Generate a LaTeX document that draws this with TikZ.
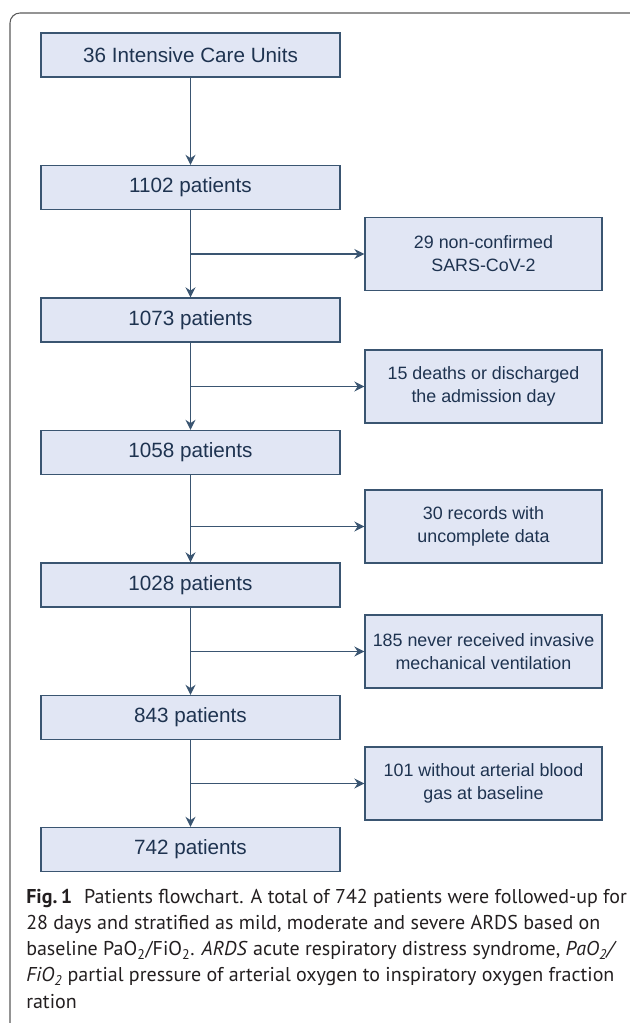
\documentclass[tikz,border=0pt]{standalone}
\usepackage{fontspec}
\setmainfont{Liberation Sans}
\newfontfamily\capfont{PT Sans}
\usetikzlibrary{arrows.meta, positioning}
\definecolor{boxfill}{HTML}{E1E6F4}
\definecolor{boxline}{HTML}{3A5571}
\definecolor{boxtext}{HTML}{1E3350}
\definecolor{framegray}{HTML}{5A5A5A}
\definecolor{captext}{HTML}{231F20}

\tikzset{
  mainbox/.style={draw=boxline, fill=boxfill, line width=1pt, minimum width=224.25pt,
    minimum height=33pt, inner sep=0pt, text=boxtext, font=\fontsize{15.5}{18}\selectfont},
  exclbox/.style={mainbox, minimum width=177.75pt, minimum height=54.75pt, align=center,
    font=\fontsize{13.4}{17.25}\selectfont},
  flow/.style={draw=boxline, line width=1pt, -{Stealth[length=7.5pt, width=7.5pt]}}
}

\begin{document}
\begin{tikzpicture}[x=0.75pt, y=-0.75pt]
  \useasboundingbox (0,0) rectangle (629,1023);

  % Outer frame
  \draw[framegray, line width=0.8pt, rounded corners=7.5pt] (10,13) rectangle (640,1035);

  % Main column
  \node[mainbox] (icu) at (190.5,55) {36 Intensive Care Units};
  \node[mainbox] (p1102) at (190.5,187.5) {1102 patients};
  \node[mainbox] (p1073) at (190.5,320) {1073 patients};
  \node[mainbox] (p1058) at (190.5,452.5) {1058 patients};
  \node[mainbox] (p1028) at (190.5,585) {1028 patients};
  \node[mainbox] (p843) at (190.5,717.5) {843 patients};
  \node[mainbox] (p742) at (190.5,849.5) {742 patients};

  % Exclusions
  \node[exclbox] (x29) at (483.5,254) {29 non-confirmed\\SARS-CoV-2};
  \node[exclbox] (x15) at (483.5,386.5) {15 deaths or discharged\\the admission day};
  \node[exclbox] (x30) at (483.5,526.5) {30 records with\\uncomplete data};
  \node[exclbox] (x185) at (483.5,651.5) {185 never received invasive\\mechanical ventilation};
  \node[exclbox] (x101) at (483.5,783.5) {101 without arterial blood\\gas at baseline};

  % Arrows down
  \draw[flow] (icu) -- (p1102);
  \draw[flow] (p1102) -- (p1073);
  \draw[flow] (p1073) -- (p1058);
  \draw[flow] (p1058) -- (p1028);
  \draw[flow] (p1028) -- (p843);
  \draw[flow] (p843) -- (p742);

  % Arrows out
  \draw[flow] (p1102.south |- x29) -- (x29);
  \draw[flow] (p1073.south |- x15) -- (x15);
  \draw[flow] (p1058.south |- x30) -- (x30);
  \draw[flow] (p1028.south |- x185) -- (x185);
  \draw[flow] (p843.south |- x101) -- (x101);

  % Caption
  \node[anchor=north west, inner sep=0pt, align=left, text=captext,
    font=\capfont\fontsize{15}{19.6}\selectfont] (caption) at (26,889)
    {\textbf{Fig.\,1}\hspace{0.6em}Patients flowchart. A total of 742 patients were followed-up for\\
     28 days and stratified as mild, moderate and severe ARDS based on\\
     baseline PaO\textsubscript{2}/FiO\textsubscript{2}. \textit{ARDS} acute respiratory distress syndrome, \textit{PaO\textsubscript{2}/}\\
     \textit{FiO\textsubscript{2}} partial pressure of arterial oxygen to inspiratory oxygen fraction\\
     ration};
\end{tikzpicture}
\end{document}
